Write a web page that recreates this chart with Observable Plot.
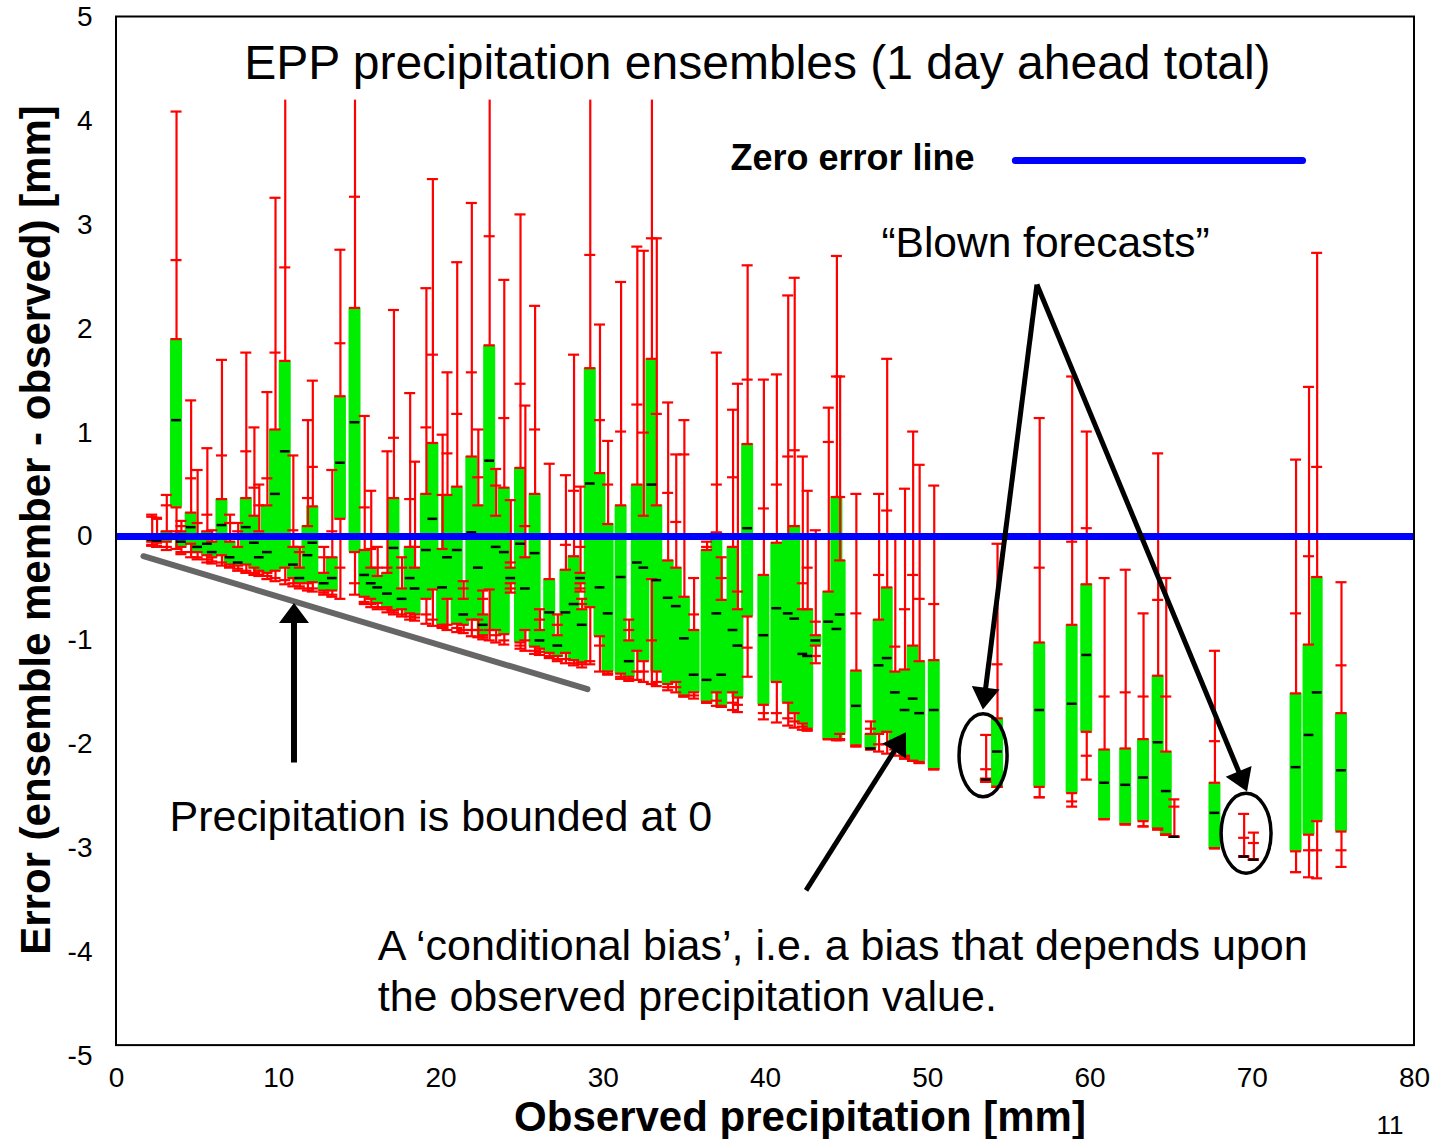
<!DOCTYPE html>
<html>
<head>
<meta charset="utf-8">
<script src="https://cdn.jsdelivr.net/npm/d3@7"></script>
<script src="https://cdn.jsdelivr.net/npm/@observablehq/plot@0.6"></script>
<style>
  html, body { margin: 0; padding: 0; background: #fff; }
  #chart { width: 1436px; height: 1139px; }
</style>
</head>
<body>
<div id="chart"></div>
<script>
// Observed precipitation [mm] for each ensemble forecast
const obs = [2.2,2.5,3.1,3.7,4.0,4.6,5.0,5.6,5.9,6.5,
  7.0,7.5,8.0,8.5,8.8,9.3,9.8,10.4,10.9,11.3,
  11.8,12.1,12.8,13.3,13.8,14.7,15.3,15.7,16.1,16.7,
  17.1,17.6,18.1,18.4,19.1,19.5,20.1,20.4,21.0,21.4,
  21.9,22.3,22.6,23.0,23.4,23.9,24.3,24.9,25.2,25.8,
  26.1,26.7,27.2,27.7,28.2,28.6,28.7,29.2,29.8,30.3,
  31.1,31.6,32.1,32.5,33.0,33.3,34.0,34.5,35.0,35.6,
  36.4,37.0,37.3,38.0,38.3,38.9,39.9,40.7,41.4,41.8,
  42.3,42.6,43.1,43.9,44.4,44.6,45.6,46.5,47.0,47.5,
  48.0,48.6,49.1,49.5,50.4,53.6,54.3,56.9,58.9,59.8,
  60.9,62.2,63.3,64.2,64.7,65.2,67.7,69.5,70.1,72.7,
  73.5,74.0,75.5];
// Error (ensemble member - observed) [mm]: minimum
const lo = [-0.09,-0.10,-0.13,-0.12,-0.17,-0.20,-0.22,-0.25,-0.26,-0.28,
  -0.30,-0.33,-0.35,-0.37,-0.38,-0.41,-0.43,-0.46,-0.48,-0.50,
  -0.52,-0.53,-0.56,-0.58,-0.60,-0.56,-0.65,-0.68,-0.70,-0.73,
  -0.75,-0.77,-0.80,-0.81,-0.84,-0.86,-0.88,-0.90,-0.92,-0.93,
  -0.96,-0.97,-0.99,-1.00,-1.02,-1.04,-0.54,-1.08,-1.10,-1.13,
  -1.14,-1.17,-1.20,-1.22,-1.24,-0.53,-1.26,-1.23,-1.30,-1.33,
  -1.37,-1.39,-1.38,-1.40,-1.42,-1.44,-1.48,-1.50,-1.54,-1.56,
  -1.60,-1.63,-1.64,-1.67,-1.69,-1.35,-1.76,-1.79,-1.82,-1.84,
  -1.86,-1.87,-1.22,-1.95,-1.96,-1.96,-2.02,-2.05,-2.07,-2.09,
  -2.11,-2.14,-2.16,-2.18,-2.24,-2.36,-2.41,-2.51,-2.60,-2.34,
  -2.72,-2.77,-2.79,-2.82,-2.87,-2.89,-3.00,-3.08,-3.11,-3.23,
  -3.28,-3.29,-3.18];
// 10th percentile
const p10 = [-0.08,-0.09,-0.10,0.05,-0.15,-0.15,-0.20,-0.22,-0.24,-0.25,
  -0.29,-0.31,-0.33,-0.35,-0.37,-0.38,-0.40,-0.42,-0.45,-0.48,
  -0.50,-0.50,-0.54,-0.56,-0.30,-0.45,-0.63,-0.65,-0.68,-0.70,
  -0.73,-0.75,-0.77,-0.78,-0.75,-0.80,-0.87,-0.85,-0.88,-0.90,
  -0.90,-0.90,-0.97,-0.90,-0.95,-1.00,-0.50,-1.05,-1.00,-1.10,
  -1.11,-1.15,-1.18,-1.18,-1.22,-0.50,-1.23,-1.20,-1.05,-1.32,
  -1.35,-1.37,-1.30,-1.30,-1.00,-1.40,-1.45,-1.45,-1.54,-1.53,
  -1.60,-1.58,-1.64,-1.60,-1.62,-1.07,-1.70,-1.70,-1.75,-1.78,
  -1.83,-1.86,-1.15,-1.95,-1.96,-1.95,-2.02,-2.05,-2.00,-2.00,
  -2.05,-2.12,-2.16,-2.18,-2.24,-2.36,-2.41,-2.51,-2.55,-2.11,
  -2.72,-2.77,-2.79,-2.82,-2.87,-2.89,-3.00,-3.08,-3.11,-3.23,
  -3.02,-3.02,-3.02];
// 25th percentile (box bottom)
const p25 = [-0.05,-0.06,-0.05,0.28,-0.10,-0.07,-0.15,-0.18,-0.20,-0.18,
  -0.27,-0.28,-0.27,-0.30,-0.33,-0.35,-0.33,-0.30,-0.40,-0.45,
  -0.45,-0.44,-0.52,-0.52,0.17,-0.15,-0.58,-0.60,-0.64,-0.68,
  -0.71,-0.70,-0.74,-0.75,-0.60,-0.51,-0.85,-0.60,-0.84,-0.85,
  -0.80,-0.80,-0.95,-0.51,-0.90,-0.94,-0.45,-1.02,-0.90,-1.06,
  -1.08,-1.12,-1.15,-1.12,-1.19,-0.45,-1.21,-0.68,-0.96,-1.30,
  -1.32,-1.35,-1.10,-1.20,-0.41,-1.30,-1.42,-1.40,-1.53,-1.50,
  -1.59,-1.50,-1.63,-1.50,-1.55,-0.77,-1.62,-1.40,-1.60,-1.70,
  -1.80,-1.85,-1.05,-1.95,-1.95,-1.90,-2.01,-2.04,-1.90,-1.88,
  -2.00,-2.11,-2.16,-2.17,-2.24,-2.36,-2.41,-2.41,-2.47,-1.88,
  -2.72,-2.77,-2.74,-2.81,-2.87,-2.89,-3.00,-3.08,-3.11,-3.03,
  -2.87,-2.74,-2.84];
// median
const med = [-0.03,-0.04,0.00,1.12,-0.05,0.09,-0.10,-0.07,-0.15,0.11,
  -0.20,-0.25,0.09,-0.06,-0.20,-0.15,0.41,0.82,-0.27,-0.40,
  -0.18,-0.06,-0.45,-0.40,0.71,1.10,-0.37,-0.45,-0.49,-0.55,
  -0.11,-0.60,-0.40,-0.50,-0.13,0.17,-0.49,-0.20,-0.13,-0.75,
  0.04,-0.30,-0.85,0.73,-0.10,-0.15,-0.40,-0.07,-0.50,-0.16,
  -1.00,-0.73,-1.05,-0.73,-0.65,-0.40,-0.85,0.51,-0.49,-0.74,
  -0.39,-1.20,-0.25,-0.30,0.50,-0.42,-0.59,-0.67,-0.98,-1.33,
  -1.38,-0.74,-1.33,-0.90,-1.05,0.08,-0.95,-0.69,-0.74,-0.79,
  -1.13,-1.15,-1.00,-0.82,-0.89,-0.75,-1.63,-2.04,-1.24,-1.17,
  -1.50,-1.67,-1.56,-1.70,-1.67,-2.34,-2.07,-1.67,-1.61,-1.14,
  -2.37,-2.39,-2.32,-1.98,-2.45,-2.89,-2.66,-3.08,-3.11,-2.22,
  -1.91,-1.50,-2.25];
// 75th percentile (box top)
const p75 = [0.00,0.02,0.05,1.90,0.05,0.23,0.00,0.05,-0.05,0.36,
  -0.05,-0.10,0.37,0.20,0.05,0.30,1.03,1.69,-0.10,-0.30,
  0.10,0.29,-0.35,-0.20,1.35,2.20,-0.13,-0.30,-0.38,-0.35,
  0.37,-0.50,-0.10,-0.30,0.41,0.90,-0.12,0.40,0.48,-0.60,
  0.77,0.30,-0.75,1.84,0.20,0.47,-0.30,0.66,-0.20,0.41,
  -0.90,-0.41,-0.95,-0.32,-0.19,-0.35,-0.70,1.62,0.61,0.12,
  0.30,-1.00,0.50,0.20,1.71,0.30,-0.23,-0.30,-0.58,-0.90,
  -0.13,0.04,-0.61,-0.10,-0.70,0.89,-0.37,-0.06,0.00,0.10,
  -0.70,-0.70,-0.95,-0.53,0.38,-0.23,-1.29,-1.90,-0.80,-0.49,
  -1.30,-1.28,-1.05,-1.20,-1.19,-2.33,-1.75,-1.02,-0.85,-0.46,
  -2.05,-2.04,-1.95,-1.34,-2.07,-2.89,-2.37,-3.08,-3.11,-1.51,
  -1.04,-0.39,-1.70];
// 90th percentile
const p90 = [0.19,0.17,0.30,2.66,0.10,0.56,0.13,0.21,0.02,0.78,
  0.13,0.05,0.82,0.47,0.30,0.56,1.77,2.59,0.06,-0.15,
  0.37,0.67,-0.20,0.05,1.86,3.27,0.28,-0.12,-0.30,-0.30,
  0.95,-0.30,0.36,-0.10,1.05,1.75,0.40,0.80,1.18,-0.50,
  1.58,0.57,-0.60,2.89,0.49,1.14,-0.25,1.47,0.10,1.03,
  -0.80,0.00,-0.85,-0.08,0.44,-0.10,-0.65,2.71,1.12,0.50,
  1.01,-0.90,1.27,1.00,2.87,1.18,0.42,0.14,0.79,-0.75,
  -0.10,0.50,-0.40,0.57,-0.53,1.51,0.27,0.50,0.77,0.83,
  -0.45,-0.30,-0.82,0.91,1.54,0.38,-0.74,-1.85,-0.37,0.25,
  -1.06,-0.70,-0.37,-0.60,-0.65,-2.24,-1.23,-0.30,-0.05,0.08,
  -1.54,-1.50,-1.54,-0.61,-1.54,-2.60,-1.97,-2.90,-2.95,-0.74,
  -0.19,0.67,-1.24];
// maximum
const hi = [0.21,0.18,0.40,4.09,0.15,1.31,0.64,0.85,0.06,1.70,
  0.21,0.13,1.77,1.05,0.50,1.39,3.26,4.40,0.78,-0.10,
  1.12,1.50,-0.10,0.64,2.76,4.40,1.16,0.44,-0.10,0.82,
  2.18,-0.20,1.38,0.72,2.39,3.44,0.98,1.58,2.64,-0.43,
  3.21,1.03,-0.52,4.40,0.65,2.47,0.35,3.10,1.26,2.22,
  -0.70,0.70,-0.75,0.59,1.75,0.48,-0.60,4.40,2.04,0.92,
  2.45,-0.80,2.79,2.75,4.40,2.87,1.29,0.79,1.12,-0.40,
  -0.05,1.77,-0.20,1.22,1.47,2.61,1.51,1.56,2.32,2.49,
  0.77,0.44,0.06,1.24,2.70,1.54,0.41,-1.78,0.41,1.71,
  0.00,0.46,1.01,0.69,0.49,-1.91,-0.07,1.14,1.54,1.01,
  -0.40,-0.32,-0.74,0.80,-0.40,-2.53,-1.10,-2.67,-2.85,0.74,
  1.44,2.73,-0.44];

// Axis ticks
const xTicks = [0,10,20,30,40,50,60,70,80];
const yTicks = [-5,-4,-3,-2,-1,0,1,2,3,4,5];
const zeroLine = [0];

// Texts
const titleText = "EPP precipitation ensembles (1 day ahead total)";
const legendText = "Zero error line";
const blownText = "\u201CBlown forecasts\u201D";
const boundText = "Precipitation is bounded at 0";
const biasLines = ["A \u2018conditional bias\u2019, i.e. a bias that depends upon", "the observed precipitation value."];
const xTitle = "Observed precipitation [mm]";
const yTitle = "Error (ensemble member - observed) [mm]";
const pageNumber = "11";

// Annotation geometry (data units)
const titleBox = [{x1: 7.6, x2: 71.5, y1: 4.2, y2: 5}];
const frameBox = [{x1: 0, x2: 80, y1: -4.9, y2: 5}];
const legendLine = [{x: 55.4, y: 3.62}, {x: 73.1, y: 3.62}];
const boundLine = [{x: 1.66, y: -0.19}, {x: 29.03, y: -1.47}];
const arrows = [
  {x1: 10.97, y1: -2.18, x2: 10.97, y2: -0.645, w: 6, L: 20, H: 15},
  {x1: 56.76, y1: 2.42, x2: 53.43, y2: -1.67, w: 5, L: 22, H: 14},
  {x1: 56.76, y1: 2.42, x2: 69.71, y2: -2.46, w: 5, L: 22, H: 14},
  {x1: 42.53, y1: -3.41, x2: 48.69, y2: -1.89, w: 5, L: 22, H: 14}
];
const ellipses = [
  {x: 53.44, y: -2.11, rx: 1.48, ry: 0.40},
  {x: 69.65, y: -2.86, rx: 1.54, ry: 0.385}
];

const rows = obs.map((x, i) => ({x, lo: lo[i], p10: p10[i], p25: p25[i], med: med[i], p75: p75[i], p90: p90[i], hi: hi[i]}));
const capRows = rows.flatMap(d => ["lo", "p10", "p25", "p75", "p90", "hi"].map(k => ({x: d.x, y: d[k]})));
const halfBox = 0.37, halfCap = 0.34, halfMed = 0.3;
const FONT = "'Liberation Sans', Arial, Helvetica, sans-serif";

const plot = Plot.plot({
  width: 1436,
  height: 1139,
  marginLeft: 116,
  marginRight: 22,
  marginTop: 16.5,
  marginBottom: 83.5,
  style: {fontFamily: FONT, fontSize: "28px", color: "#000", background: "#fff", overflow: "visible"},
  x: {domain: [0, 80], ticks: xTicks, tickSize: 0, tickPadding: 11, label: null, tickFormat: d => String(d)},
  y: {domain: [-5, 5], ticks: yTicks, tickSize: 0, tickPadding: 24, label: null, tickFormat: d => String(d)},
  marks: [
    Plot.rect(rows, {x1: d => d.x - halfBox, x2: d => d.x + halfBox, y1: "p25", y2: "p75", fill: "#00ee00"}),
    Plot.ruleX(rows, {x: "x", y1: "p75", y2: "hi", stroke: "#ff0000", strokeWidth: 2.2}),
    Plot.ruleX(rows, {x: "x", y1: "lo", y2: "p25", stroke: "#ff0000", strokeWidth: 2.2}),
    Plot.ruleY(capRows, {y: "y", x1: d => d.x - halfCap, x2: d => d.x + halfCap, stroke: "#ff0000", strokeWidth: 2.2}),
    Plot.ruleY(rows, {y: "med", x1: d => d.x - halfMed, x2: d => d.x + halfMed, stroke: "#000", strokeWidth: 2.5}),
    Plot.rect(titleBox, {x1: "x1", x2: "x2", y1: "y1", y2: "y2", fill: "#fff"}),
    Plot.ruleY(zeroLine, {stroke: "#0000ff", strokeWidth: 7}),
    Plot.line(boundLine, {x: "x", y: "y", stroke: "#666666", strokeWidth: 6}),
    Plot.line(legendLine, {x: "x", y: "y", stroke: "#0000ff", strokeWidth: 7}),
    Plot.rect(frameBox, {x1: "x1", x2: "x2", y1: "y1", y2: "y2", fill: "none", stroke: "#000", strokeWidth: 2}),
    Plot.text([titleText], {x: 39.5, y: 4.55, text: d => d, textAnchor: "middle", fontSize: 48, fill: "#000"}),
    Plot.text([legendText], {x: 37.84, y: 3.64, text: d => d, textAnchor: "start", fontSize: 36, fontWeight: "bold", fill: "#000"}),
    Plot.text([blownText], {x: 57.26, y: 2.82, text: d => d, textAnchor: "middle", fontSize: 42.5, fill: "#000"}),
    Plot.text([boundText], {x: 3.27, y: -2.70, text: d => d, textAnchor: "start", fontSize: 43, fill: "#000"}),
    Plot.text(biasLines, {x: 16.1, y: (d, i) => [-3.94, -4.43][i], text: d => d, textAnchor: "start", fontSize: 43, fill: "#000"})
  ]
});

document.getElementById("chart").appendChild(plot);

// Extra annotation layer using the plot's own scales
const sx = plot.scale("x"), sy = plot.scale("y");
const svg = d3.select(plot);
const g = svg.append("g");

ellipses.forEach(e => {
  const cx = sx.apply(e.x), cy = sy.apply(e.y);
  g.append("ellipse")
    .attr("cx", cx).attr("cy", cy)
    .attr("rx", sx.apply(e.x + e.rx) - cx)
    .attr("ry", sy.apply(e.y - e.ry) - cy)
    .attr("fill", "none").attr("stroke", "#000").attr("stroke-width", 3.5);
});

arrows.forEach(a => {
  const X1 = sx.apply(a.x1), Y1 = sy.apply(a.y1), X2 = sx.apply(a.x2), Y2 = sy.apply(a.y2);
  const dx = X2 - X1, dy = Y2 - Y1, len = Math.hypot(dx, dy);
  const ux = dx / len, uy = dy / len, px = -uy, py = ux;
  const bx = X2 - ux * a.L, by = Y2 - uy * a.L;
  g.append("line").attr("x1", X1).attr("y1", Y1).attr("x2", bx + ux * 2).attr("y2", by + uy * 2)
    .attr("stroke", "#000").attr("stroke-width", a.w);
  g.append("polygon")
    .attr("points", [[X2, Y2], [bx + px * a.H, by + py * a.H], [bx - px * a.H, by - py * a.H]].map(p => p.join(",")).join(" "))
    .attr("fill", "#000");
});

// Axis titles and page number
g.append("text").attr("x", 800).attr("y", 1131).attr("text-anchor", "middle")
  .attr("font-family", FONT).attr("font-size", 42).attr("font-weight", "bold").text(xTitle);
g.append("text").attr("transform", "translate(50,530) rotate(-90)").attr("text-anchor", "middle")
  .attr("font-family", FONT).attr("font-size", 42).attr("font-weight", "bold").text(yTitle);
g.append("text").attr("x", 1390).attr("y", 1134).attr("text-anchor", "middle")
  .attr("font-family", FONT).attr("font-size", 26).text(pageNumber);
</script>
</body>
</html>
